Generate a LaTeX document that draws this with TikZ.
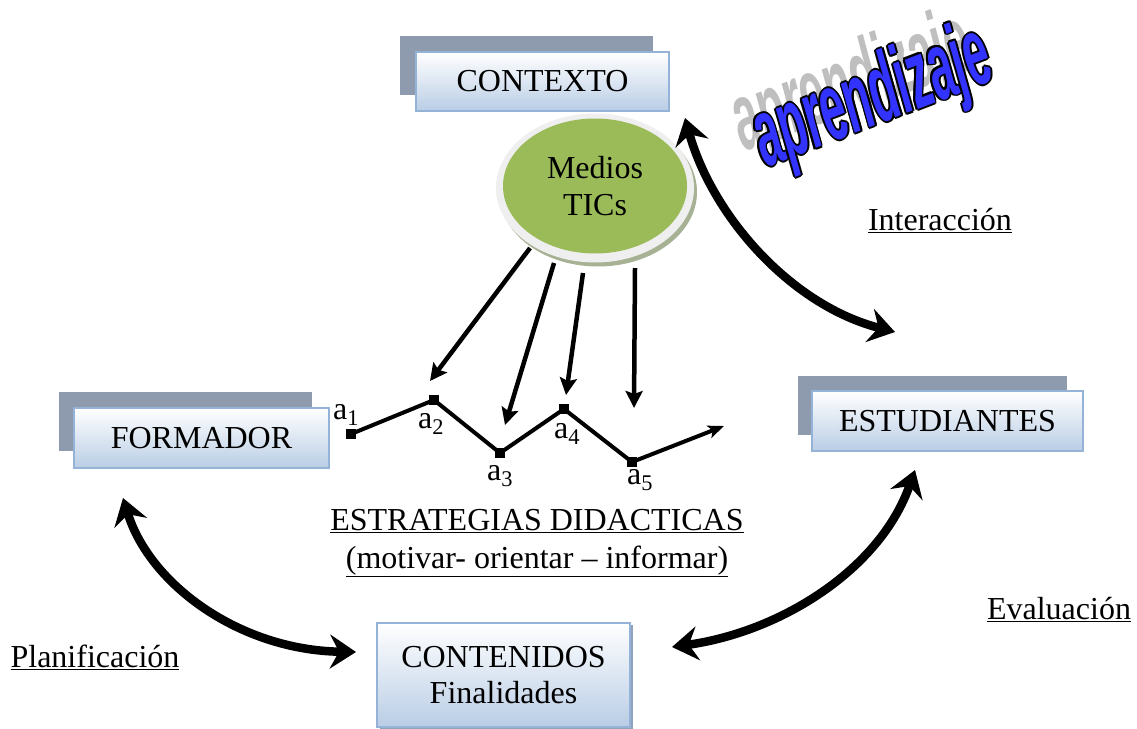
\documentclass[tikz,border=0pt]{standalone}
\usepackage{graphicx}
\usepackage{fontspec}
\setmainfont{Liberation Serif}
\newfontfamily\artfont{Liberation Sans}
\usetikzlibrary{arrows.meta,shapes.geometric,calc}
\definecolor{boxblue}{HTML}{B9CDE5}
\definecolor{boxline}{HTML}{95B3D7}
\definecolor{shadowgray}{HTML}{8E9BAE}
\definecolor{smallshadow}{HTML}{8FA3BF}
\definecolor{ticgreen}{HTML}{9BBB59}
\definecolor{ringgray}{HTML}{EFEFEF}
\definecolor{ringshadow}{HTML}{A6B293}
\definecolor{artblue}{HTML}{3333FF}
\definecolor{artgray}{HTML}{BFBFBF}
\newcommand\artword{\scalebox{0.47}[1]{\artfont\bfseries\itshape\fontsize{96}{96}\selectfont aprendizaje}}
\begin{document}
\begin{tikzpicture}[x=1pt,y=-1pt,
  box/.style={draw=boxline, line width=2pt, top color=white, bottom color=boxblue,
    font=\fontsize{32}{36}\selectfont, inner sep=0pt, align=center},
  shadowbox/.style={fill=shadowgray, draw=none, inner sep=0pt},
  thinarrow/.style={line width=4.5pt, -{Stealth[length=17pt,width=17pt,inset=3pt]}},
  bigarrow/.style={line width=8.5pt,
    {Stealth[length=26pt,width=34pt,inset=9pt]}-{Stealth[length=26pt,width=34pt,inset=9pt]}},
  sq/.style={fill=black, minimum size=10pt, inner sep=0pt},
  lab/.style={font=\fontsize{32}{36}\selectfont, inner sep=0pt},
  ]
\useasboundingbox (0,0) rectangle (1137,728);

% ---------- boxes ----------
\node[shadowbox, minimum width=253pt, minimum height=59pt] (ctxs) at (526.5,65.5) {};
\node[box, minimum width=253pt, minimum height=59pt] (ctx) at (542.5,81.5) {CONTEXTO};

\node[shadowbox, minimum width=253pt, minimum height=59pt] (forms) at (185.5,421.5) {};
\node[box, minimum width=255pt, minimum height=60pt] (form) at (201.5,438) {FORMADOR};

\node[shadowbox, minimum width=269pt, minimum height=59pt] (ests) at (932.5,405.5) {};
\node[box, minimum width=271pt, minimum height=60pt] (est) at (947.5,421) {ESTUDIANTES};

\node[fill=smallshadow, inner sep=0pt, minimum width=253pt, minimum height=104pt] (conts) at (506,677) {};
\node[box, minimum width=253pt, minimum height=104pt] (cont) at (503.5,675) {CONTENIDOS\\Finalidades};

% ---------- ellipse ----------
\node[ellipse, fill=ringshadow, inner sep=0pt, minimum width=198pt, minimum height=149pt] (ticsh) at (598,192) {};
\node[ellipse, fill=ringgray, inner sep=0pt, minimum width=198pt, minimum height=149pt] (ticring) at (595,188) {};
\node[ellipse, fill=ticgreen, inner sep=0pt, minimum width=184pt, minimum height=135pt,
  align=center, font=\fontsize{32}{37}\selectfont] (tic) at (595,186) {Medios\\TICs};

% ---------- zigzag ----------
\node[sq] (a1) at (351,434) {};
\node[sq] (a2) at (434,400) {};
\node[sq] (a3) at (500,453) {};
\node[sq] (a4) at (564,409) {};
\node[sq] (a5) at (632,462) {};
\coordinate (zend) at (724,426);
\draw[line width=4pt, -{Stealth[length=16pt,width=13pt,inset=4pt]}]
  (a1.center) -- (a2.center) -- (a3.center) -- (a4.center) -- (a5.center) -- (zend);
\foreach \p in {a1,a2,a3,a4,a5} \node[sq] at (\p) {};

\node[lab] (l1) at (346,415) {a\textsubscript{1}};
\node[lab] (l2) at (431,424) {a\textsubscript{2}};
\node[lab] (l3) at (500,476) {a\textsubscript{3}};
\node[lab] (l4) at (567,434) {a\textsubscript{4}};
\node[lab] (l5) at (640,480) {a\textsubscript{5}};

% ---------- arrows from TICs ----------
\coordinate (s1) at (530,248);
\coordinate (s2) at (554,263);
\coordinate (s3) at (583,273);
\coordinate (s4) at (635,268);
\draw[thinarrow] (s1) -- ($(a2)+(-4,-19)$);
\draw[thinarrow] (s2) -- ($(a3)+(5,-28)$);
\draw[thinarrow] (s3) -- ($(a4)+(2,-14)$);
\draw[thinarrow] (s4) -- ($(a5)+(2,-54)$);

% ---------- texts ----------
\node[lab, align=center] (estr) at (537,543)
  {\underline{ESTRATEGIAS DIDACTICAS}\\[2pt]\underline{(motivar- orientar – informar)}};
\node[lab] (inter) at (940,221) {\underline{Interacción}};
\node[lab] (eval) at (1059,610) {\underline{Evaluación}};
\node[lab] (plan) at (95,657) {\underline{Planificación}};

% ---------- big double arrows ----------
\coordinate (i1) at (685,118);
\coordinate (i2) at (895,332);
\draw[bigarrow] (i1) .. controls (712,215) and (790,305) .. (i2);
\coordinate (p1) at (123,498);
\coordinate (p2) at (356,652);
\draw[bigarrow] (p1) .. controls (150,585) and (240,650) .. (p2);
\coordinate (v1) at (672,647);
\coordinate (v2) at (915,470);
\draw[bigarrow] (v1) .. controls (780,632) and (880,570) .. (v2);

% ---------- word art ----------
\node[rotate=20, text=artgray, inner sep=0pt] (artsh) at (853,86) {\artword};
\coordinate (artc) at (873,100);
\foreach \a [count=\i] in {0,45,...,315}
  \node[rotate=21, text=black, inner sep=0pt] (ao\i) at ($(artc)+(\a:1.8)$) {\artword};
\node[rotate=21, text=artblue, inner sep=0pt] (art) at (artc) {\artword};
\end{tikzpicture}
\end{document}
